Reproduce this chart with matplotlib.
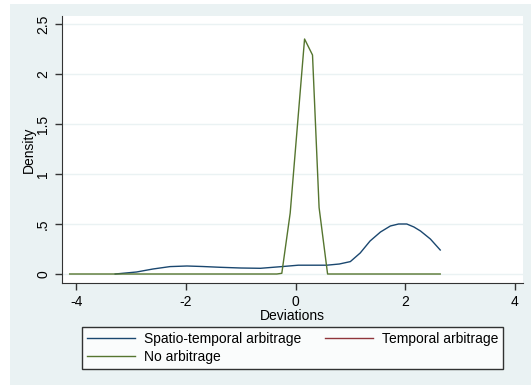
import matplotlib.pyplot as plt
from matplotlib.patches import Rectangle

plt.rcParams['font.family'] = ['Liberation Sans', 'DejaVu Sans']
plt.rcParams['axes.unicode_minus'] = False

# kernel density estimates
spatio_x = [-3.29, -2.9, -2.6, -2.29, -1.98, -1.7, -1.37, -1.0, -0.64, -0.25, 0.05, 0.57, 0.8,
            1.0, 1.18, 1.36, 1.55, 1.73, 1.88, 2.03, 2.16, 2.28, 2.46, 2.64]
spatio_y = [0.0, 0.02, 0.05, 0.074, 0.08, 0.075, 0.067, 0.06, 0.057, 0.074, 0.088, 0.088, 0.1,
            0.124, 0.21, 0.33, 0.42, 0.48, 0.5, 0.5, 0.47, 0.43, 0.35, 0.24]

temporal_x = []
temporal_y = []

none_x = [-4.12, -0.34, -0.25, -0.097, 0.165, 0.31, 0.43, 0.585, 2.64]
none_y = [0.0, 0.0, 0.007, 0.61, 2.35, 2.19, 0.665, 0.0, 0.0]

xticks = [-4, -2, 0, 2, 4]
yticks = [0, 0.5, 1, 1.5, 2, 2.5]
ytick_labels = ['0', '.5', '1', '1.5', '2', '2.5']

bg = '#eaf2f3'
fig = plt.figure(figsize=(5.31, 3.85), dpi=100, facecolor='white')
fig.patches.append(Rectangle((10 / 531, 0), 1, 1 - 4 / 385, transform=fig.transFigure,
                             facecolor=bg, edgecolor='none', zorder=-10))

ax = fig.add_axes([62 / 531, (385 - 283) / 385, (523 - 62) / 531, (283 - 16) / 385])
ax.set_facecolor('white')

l1, = ax.plot(spatio_x, spatio_y, color='#1a476f', lw=1, label='Spatio-temporal arbitrage')
l2, = ax.plot(temporal_x, temporal_y, color='#90353b', lw=1, label='Temporal arbitrage')
l3, = ax.plot(none_x, none_y, color='#55752f', lw=1, label='No arbitrage')

ax.set_xlim(-4.26, 4.15)
ax.set_ylim(-0.09, 2.58)
ax.set_xticks(xticks)
ax.set_yticks(yticks)
ax.set_yticklabels(ytick_labels, rotation=90, va='center')
ax.tick_params(labelsize=10, length=5, width=1, color='#333333')
ax.grid(axis='y', color='#eaf2f3', lw=1)
ax.set_axisbelow(True)
for s in ['top', 'right']:
    ax.spines[s].set_visible(False)
for s in ['left', 'bottom']:
    ax.spines[s].set_color('#333333')

ax.set_xlabel('Deviations', fontsize=10, labelpad=0)
ax.set_ylabel('Density', fontsize=10, labelpad=0)

# column-major fill: order so rows read Spatio | Temporal, then No arbitrage
leg = fig.legend([l1, l3, l2], [l1.get_label(), l3.get_label(), l2.get_label()],
                 loc='upper left', bbox_to_anchor=(82 / 531, 1 - 326.7 / 385),
                 ncol=2, fontsize=10, frameon=True, fancybox=False,
                 handlelength=3.5, handletextpad=0.6, columnspacing=1.7,
                 borderpad=0.35, labelspacing=0.3, borderaxespad=0)
leg.get_frame().set_edgecolor('black')
leg.get_frame().set_linewidth(1)

fig.savefig('out.png', dpi=100, facecolor=fig.get_facecolor())
